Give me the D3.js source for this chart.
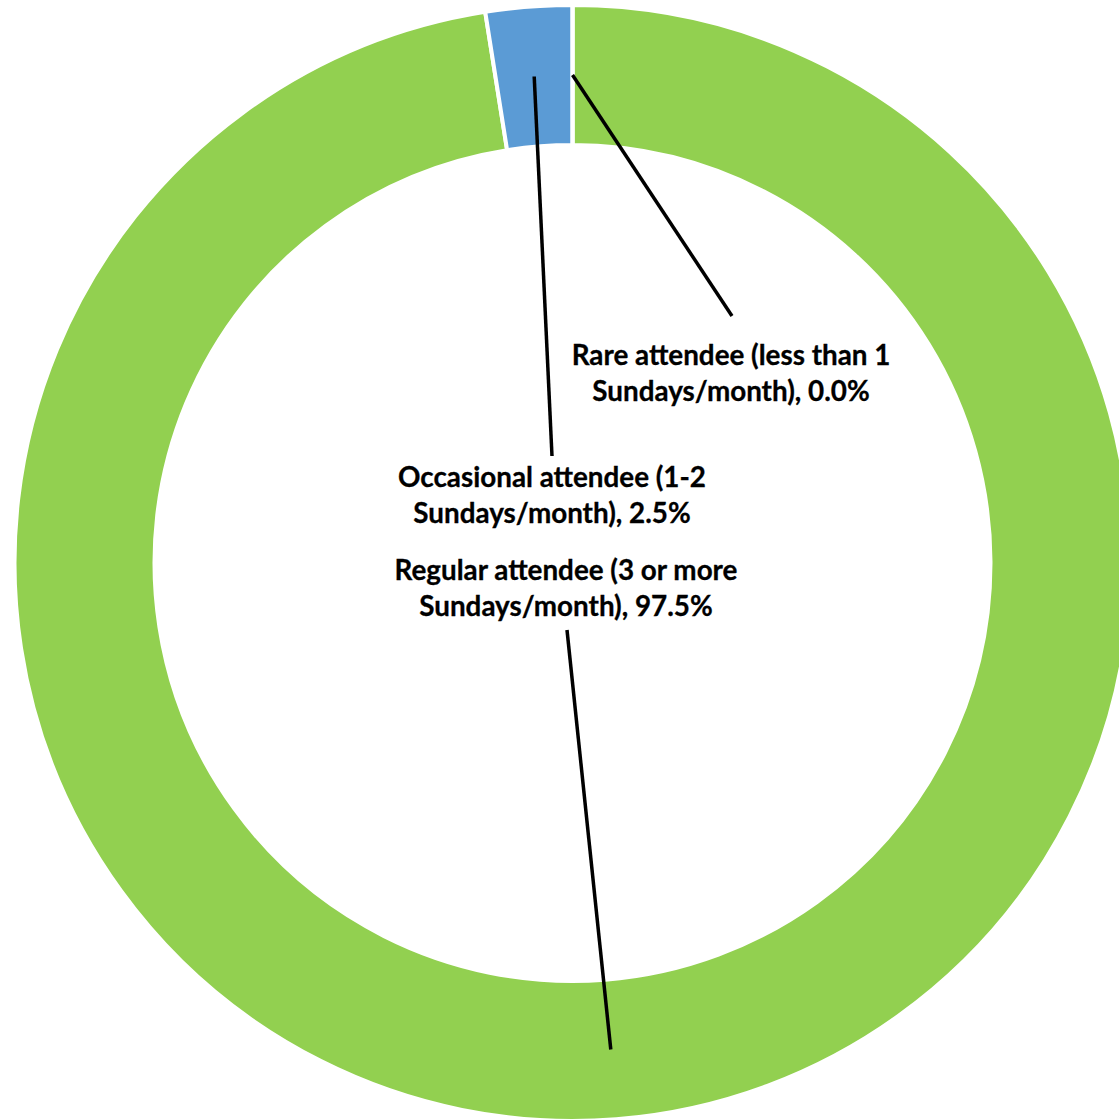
<!DOCTYPE html>
<html>
<head>
<meta charset="utf-8">
<script src="https://cdn.jsdelivr.net/npm/d3@7"></script>
<style>
  html, body { margin: 0; padding: 0; background: #ffffff; }
  svg { display: block; }
</style>
</head>
<body>
<script>
// Data (drawing order, clockwise from 12 o'clock)
const categories = [
  "Regular attendee (3 or more Sundays/month)",
  "Occasional attendee (1-2 Sundays/month)",
  "Rare attendee (less than 1 Sundays/month)"
];
const values = [97.5, 2.5, 0.0];
const labelLines = [
  ["Regular attendee (3 or more", "Sundays/month), 97.5%"],
  ["Occasional attendee (1-2", "Sundays/month), 2.5%"],
  ["Rare attendee (less than 1", "Sundays/month), 0.0%"]
];
const colors = ["#92D050", "#5B9BD5", "#ED7D31"];

// Layout
const W = 1119, H = 1120;
const cx = 572.5, cy = 563;
const outerR = 558, innerR = 418;
const labelPos = [
  { x: 566, y: 580, lineEnd: [567, 630] },
  { x: 552, y: 487, lineEnd: [552, 456] },
  { x: 731, y: 365, lineEnd: [732, 316] }
];
const fontFamily = "Lato, 'Open Sans', 'DejaVu Sans', sans-serif";

const svg = d3.select("body").append("svg")
  .attr("width", W).attr("height", H);

const g = svg.append("g").attr("transform", `translate(${cx},${cy})`);

const pie = d3.pie().sort(null).value(d => d)(values);
const arc = d3.arc().innerRadius(innerR).outerRadius(outerR);
const midArc = d3.arc().innerRadius(420).outerRadius(556);

g.selectAll("path.slice")
  .data(pie)
  .join("path")
  .attr("class", "slice")
  .attr("d", arc)
  .attr("fill", (d, i) => colors[i])
  .attr("stroke", "#ffffff")
  .attr("stroke-width", 4)
  .attr("stroke-linejoin", "miter");

// Font size so the longest line matches the reference width
const probe = svg.append("text")
  .attr("font-family", fontFamily).attr("font-weight", "bold")
  .attr("font-size", 100).text("Regular attendee (3 or more");
const probeW = probe.node().getComputedTextLength();
probe.remove();
const fontSize = Math.max(18, Math.min(28, 100 * 343 / probeW));

// Leader lines from label to slice centroid
svg.append("g").selectAll("line")
  .data(pie)
  .join("line")
  .attr("x1", (d, i) => labelPos[i].lineEnd[0])
  .attr("y1", (d, i) => labelPos[i].lineEnd[1])
  .attr("x2", d => cx + midArc.centroid(d)[0])
  .attr("y2", d => cy + midArc.centroid(d)[1])
  .attr("stroke", "#000000")
  .attr("stroke-width", 3.5);

// Labels
const labels = svg.append("g").selectAll("text")
  .data(pie)
  .join("text")
  .attr("font-family", fontFamily)
  .attr("font-weight", "bold")
  .attr("font-size", fontSize)
  .attr("fill", "#000000")
  .attr("stroke", "#000000")
  .attr("stroke-width", 0.3)
  .attr("text-anchor", "middle");

labels.each(function(d, i) {
  const t = d3.select(this);
  labelLines[i].forEach((line, j) => {
    t.append("tspan")
      .attr("x", labelPos[i].x)
      .attr("y", labelPos[i].y + j * 36)
      .text(line);
  });
});
</script>
</body>
</html>
